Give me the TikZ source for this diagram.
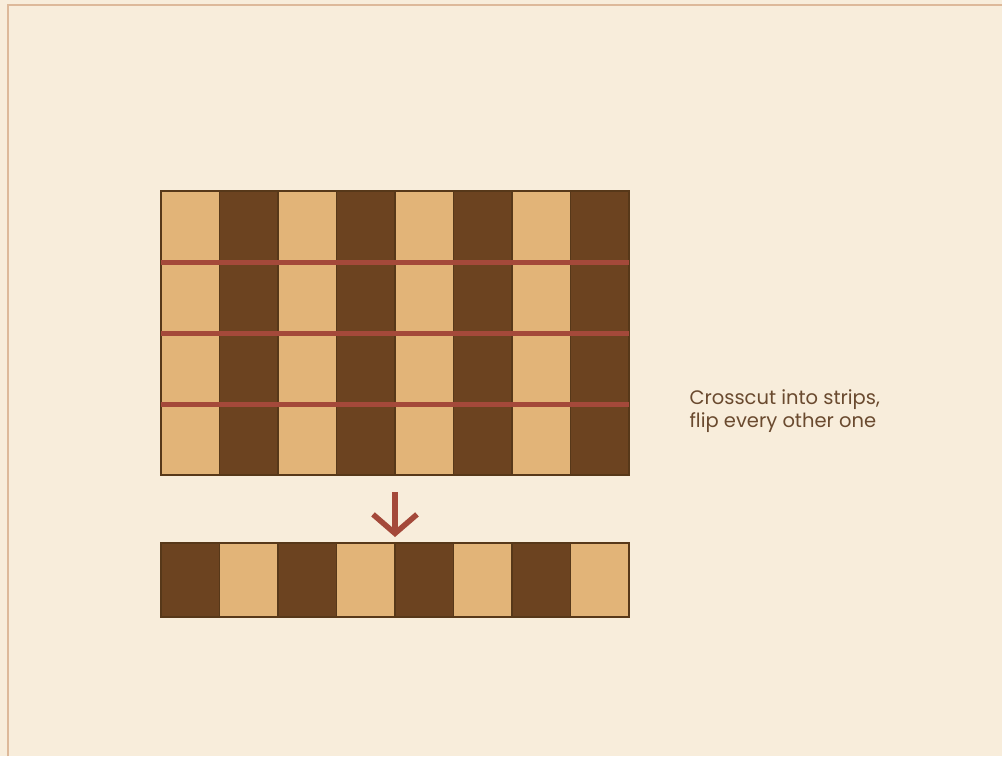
\documentclass[tikz,border=0pt]{standalone}
\usepackage{fontspec}
\setmainfont{Poppins}
\usetikzlibrary{arrows.meta}

\definecolor{paper}{HTML}{F8EDDB}
\definecolor{frameline}{HTML}{DDB99A}
\definecolor{maple}{HTML}{E2B478}
\definecolor{walnut}{HTML}{6C4320}
\definecolor{edge}{HTML}{573819}
\definecolor{cutred}{HTML}{A4493A}
\definecolor{note}{HTML}{6A4A2F}

\begin{document}
\begin{tikzpicture}[
  x=1pt, y=-1pt,
  lightcell/.style={fill=maple, draw=edge, line width=1.6pt},
  darkcell/.style={fill=walnut, draw=edge, line width=1.6pt},
  cut/.style={draw=cutred, line width=5pt},
  flip/.style={-{Straight Barb[length=19pt, width=44pt]}, draw=cutred, line width=5.5pt},
  lbl/.style={font=\fontsize{19.5}{23}\selectfont, text=note, align=left, anchor=west},
]

% Background and frame
\fill[paper] (0,0) rectangle (1002,756);
\useasboundingbox (0,0) rectangle (1002,756);
\draw[frameline, line width=1.2pt] (8,756) -- (8,5) -- (1002,5);

% Glued-up panel, 8 staves
\foreach \i in {0,...,7}{
  \pgfmathsetmacro{\xa}{161+58.5*\i}
  \pgfmathsetmacro{\xb}{161+58.5*(\i+1)}
  \ifodd\i
    \path[darkcell] (\xa,191) rectangle (\xb,475);
  \else
    \path[lightcell] (\xa,191) rectangle (\xb,475);
  \fi
}
\draw[edge, line width=1.6pt] (161,191) rectangle (629,475);

% Crosscuts
\foreach \y in {262,333,404}
  \draw[cut] (161,\y) -- (629,\y);

% Flipped strip
\foreach \i in {0,...,7}{
  \pgfmathsetmacro{\xa}{161+58.5*\i}
  \pgfmathsetmacro{\xb}{161+58.5*(\i+1)}
  \ifodd\i
    \path[lightcell] (\xa,543) rectangle (\xb,617);
  \else
    \path[darkcell] (\xa,543) rectangle (\xb,617);
  \fi
}
\draw[edge, line width=1.6pt] (161,543) rectangle (629,617);

% Arrow
\coordinate (from) at (395,492);
\coordinate (to) at (395,537);
\draw[flip] (from) -- (to);

% Label
\node[lbl] (label) at (686,411) {Crosscut into strips,\\flip every other one};

\end{tikzpicture}
\end{document}
